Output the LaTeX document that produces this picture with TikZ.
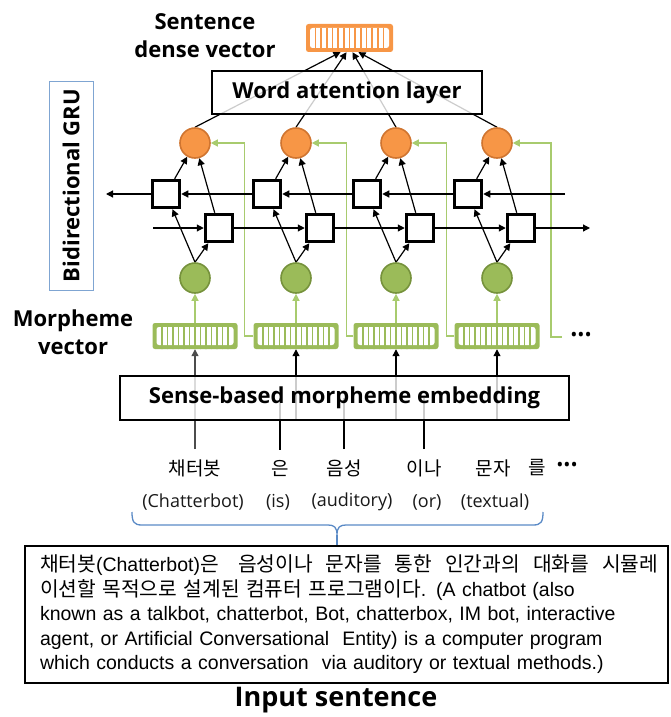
\documentclass[tikz,border=0pt]{standalone}
\usepackage{fontspec}
\setmainfont{Liberation Sans}
\newfontfamily\lblfont{Open Sans}
\newfontfamily\krfont{Noto Sans CJK KR}
\newfontfamily\krtext{Noto Sans CJK KR}[WordSpace=1.4]
\usetikzlibrary{arrows.meta,calc,backgrounds}

\definecolor{vecOrange}{HTML}{F79646}
\definecolor{orangeEdge}{HTML}{D07530}
\definecolor{gruGreen}{HTML}{9BBB59}
\definecolor{greenEdge}{HTML}{76923C}
\definecolor{paleGreen}{HTML}{A8CB6E}
\definecolor{gruBlue}{HTML}{7FA5D2}
\definecolor{braceBlue}{HTML}{5A8AC6}

\newcommand{\kr}[1]{{\krtext\fontsize{20.3}{24.5}\selectfont #1}}

\tikzset{
  lbl/.style={font=\lblfont\bfseries\fontsize{22}{28}\selectfont, inner sep=0pt},
  layerbox/.style={draw=black, line width=1.3pt, fill=white, fill opacity=0.8,
    text opacity=1, draw opacity=1, lbl},
  vecbox/.style={rectangle, rounded corners=2.5pt, fill=#1, minimum width=85pt,
    minimum height=26pt, inner sep=0pt,
    path picture={
      \fill[white] ([xshift=4pt,yshift=-4pt]path picture bounding box.north west)
        rectangle ([xshift=-4pt,yshift=4pt]path picture bounding box.south east);
      \foreach \k in {1,...,13}{
        \draw[#1, line width=1.7pt]
          ($([xshift=4pt,yshift=-4pt]path picture bounding box.north west)!\k/14!([xshift=-4pt,yshift=-4pt]path picture bounding box.north east)$)
          -- ++(0,-30pt);
      }
    }},
  gru/.style={rectangle, draw=black, fill=white, line width=3.5pt, minimum size=27pt, inner sep=0pt},
  ocirc/.style={circle, fill=vecOrange, draw=orangeEdge, line width=1.6pt, minimum size=30pt, inner sep=0pt},
  gcirc/.style={circle, fill=gruGreen, draw=greenEdge, line width=1.6pt, minimum size=30pt, inner sep=0pt},
  link/.style={->, line width=1.2pt},
  feed/.style={->, draw=paleGreen, line width=1.3pt},
  krw/.style={font=\krfont\fontsize{19}{22}\selectfont, inner xsep=0pt, inner ysep=10pt},
  gloss/.style={font=\lblfont\fontsize{18}{22}\selectfont, text=black!90, inner sep=1pt},
  dots/.style={font=\lblfont\fontsize{19}{19}\selectfont, inner sep=0pt}
}

\begin{document}
\begin{tikzpicture}[x=1pt, y=-1pt, >={Triangle[length=7pt,width=7pt]}]
\useasboundingbox (0,0) rectangle (671,717);

% ---- top: sentence vector and attention layer
\node[vecbox=vecOrange, minimum width=87pt, minimum height=28pt] (sv) at (349.5,38) {};
\node[lbl, align=center] (svlabel) at (205,36) {Sentence\\dense vector};
\node[layerbox, minimum width=270pt, minimum height=43pt] (att) at (347,92.5) {Word attention layer};

% ---- bidirectional GRU columns
\foreach \i/\x in {1/195,2/296,3/396,4/497}{
  \node[ocirc] (o\i) at (\x,143) {};
  \node[gru]   (b\i) at (\x-29,194) {};
  \node[gru]   (f\i) at (\x+24,228) {};
  \node[gcirc] (g\i) at (\x,278) {};
  \node[vecbox=gruGreen] (v\i) at (\x,336) {};
}
\coordinate (bstart) at (565,194);
\coordinate (bend)   at (106,194);
\coordinate (fstart) at (153,228);
\coordinate (fend)   at (590,228);
\coordinate (more)   at (562,337);
\node[dots] (moredots) at (581,337) {•••};

% ---- side labels
\node[draw=gruBlue, line width=1pt, rotate=90, minimum width=209pt, minimum height=44pt,
      lbl, fill=white] (gru) at (71,185.5) {Bidirectional GRU};
\node[lbl, align=center] (mvlabel) at (73,332) {Morpheme\\vector};

% ---- embedding layer and input words
\node[layerbox, minimum width=449pt, minimum height=44pt] (sb) at (344.5,398) {Sense-based morpheme embedding};

\node[krw] (w1) at (195,468) {채터봇};
\node[krw] (w2) at (280,468) {은};
\node[krw] (w3) at (344,468) {음성};
\node[krw] (w4) at (424,468) {이나};
\node[krw] (w5) at (493,468) {문자};
\node[krw] (w6) at (537,468) {를};
\node[dots] (wdots) at (567,467) {•••};

\node[gloss] (e1) at (193,502) {(Chatterbot)};
\node[gloss] (e2) at (278,502) {(is)};
\node[gloss] (e3) at (352,502) {(auditory)};
\node[gloss] (e4) at (427,502) {(or)};
\node[gloss] (e5) at (495,502) {(textual)};

% brace gathering the words
\coordinate (brl) at (132,512);
\coordinate (brr) at (543,512);
\coordinate (brt) at (337,535);
\draw[braceBlue, line width=1.3pt]
  (brl) .. controls (132,522) and (134,525) .. (142,525) -- (328,525)
  .. controls (334,525) and (337,527) .. (brt)
  .. controls (337,527) and (340,525) .. (346,525) -- (533,525)
  .. controls (541,525) and (543,522) .. (brr);

% input sentence
\node[draw=black, line width=1.4pt, minimum width=643pt, minimum height=137pt,
      text width=613pt, inner xsep=15pt, align=left,
      font=\fontsize{19.5}{24.5}\selectfont] (inbox) at (346.5,614.5)
  {\mbox{\kr{채터봇}(Chatterbot)\kr{은}\ \ \ \kr{음성이나\ \ 문자를\ \ 통한\ \ 인간과의\ \ 대화를\ \ 시뮬레}}\\
   \mbox{\kr{이션할 목적으로 설계된 컴퓨터 프로그램이다}. (A chatbot (also}\\
   \mbox{known as a talkbot, chatterbot, Bot, chatterbox, IM bot, interactive}\\
   \mbox{agent, or Artificial Conversational\ \ Entity) is a computer program}\\
   \mbox{which conducts a conversation\ \ via auditory or textual methods.)}};
\node[lbl, font=\lblfont\bfseries\fontsize{27}{30}\selectfont] (inlabel) at (336,700) {Input sentence};

% ---- connectors (kept underneath the boxes)
\begin{pgfonlayer}{background}
  % feedback from the next morpheme vector
  \draw[feed] (v2.west) -- ++(-9,0) |- (o1.east);
  \draw[feed] (v3.west) -- ++(-7,0) |- (o2.east);
  \draw[feed] (v4.west) -- ++(-8,0) |- (o3.east);
  \draw[feed] (more) -- ++(-11,0) |- (o4.east);
  \foreach \i in {1,...,4}{
    \draw[feed] (v\i) -- (g\i);
  }
  % recurrent chains
  \draw[link] (bstart) -- (b4);
  \draw[link] (b4) -- (b3);
  \draw[link] (b3) -- (b2);
  \draw[link] (b2) -- (b1);
  \draw[link] (b1) -- (bend);
  \draw[link] (fstart) -- (f1);
  \draw[link] (f1) -- (f2);
  \draw[link] (f2) -- (f3);
  \draw[link] (f3) -- (f4);
  \draw[link] (f4) -- (fend);
  \foreach \i in {1,...,4}{
    \draw[link] (g\i.north) -- (b\i);
    \draw[link] (g\i.north) -- (f\i);
    \draw[link] (b\i) -- (o\i);
    \draw[link] (f\i) -- (o\i);
  }
  % attention to the sentence vector
  \draw[link] (o1.north) -- ([xshift=-9pt]sv.south);
  \draw[link] (o2.north) -- ([xshift=-3pt]sv.south);
  \draw[link] (o3.north) -- ([xshift=3pt]sv.south);
  \draw[link] (o4.north) -- ([xshift=9pt]sv.south);
  % embedding to morpheme vectors
  \draw[link, draw=black!70] (w1.north) -- (v1);
  \draw[link] (v2.south |- sb.south) -- (v2);
  \draw[link] (v3.south |- sb.south) -- (v3);
  \draw[link] (v4.south |- sb.south) -- (v4);
  \draw[line width=1.2pt] (w2.north) -- (w2.north |- sb.center);
  \draw[line width=1.2pt] (w3.north) -- (w3.north |- sb.center);
  \draw[line width=1.2pt] (w4.north) -- (w4.north |- sb.center);
  % brace to the input box
  \draw[braceBlue, line width=1.3pt] (brt) -- (brt |- inbox.north);
\end{pgfonlayer}
\end{tikzpicture}
\end{document}
